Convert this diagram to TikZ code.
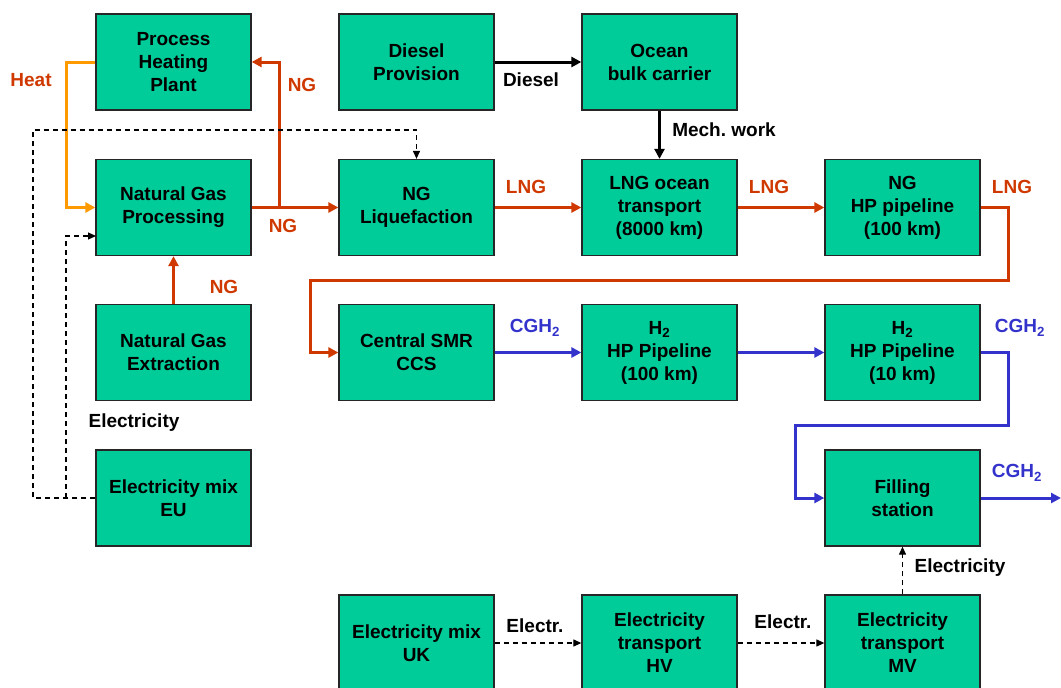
\documentclass[tikz,border=0pt]{standalone}
\usepackage{fontspec}
\setmainfont{Liberation Sans}
\usepackage{xcolor}
\usepackage{tikz}
\usetikzlibrary{arrows.meta}

\definecolor{boxgreen}{RGB}{0,204,153}
\definecolor{ngred}{RGB}{207,57,0}
\definecolor{heatorange}{RGB}{255,153,0}
\definecolor{hblue}{RGB}{51,51,204}

\begin{document}
\begin{tikzpicture}[x=1pt, y=-1pt,
    box/.style={rectangle, draw=black!85, line width=1.3pt, fill=boxgreen, minimum width=155pt, minimum height=96pt, align=center, inner sep=0pt, font=\bfseries\fontsize{19}{23}\selectfont},
    lbl/.style={font=\bfseries\fontsize{19}{23}\selectfont, inner sep=0pt},
    ngline/.style={draw=ngred, line width=3pt, -{Triangle[length=10pt,width=10pt]}},
    heatline/.style={draw=heatorange, line width=3pt, -{Triangle[length=10pt,width=10pt]}},
    hline/.style={draw=hblue, line width=3pt, -{Triangle[length=10pt,width=10pt]}},
    fuelline/.style={draw=black, line width=3pt, -{Triangle[length=10pt,width=10pt]}},
    eline/.style={draw=black, line width=1.2pt, dash pattern=on 5pt off 4pt, -{Triangle[length=8pt,width=7pt]}}]
            \useasboundingbox (0,0) rectangle (1061,688);
            % boxes
            \node (php) at (173.5, 62) [box] {Process\\Heating\\Plant};
            \node (dsl) at (416.5, 62) [box] {Diesel\\Provision};
            \node (obc) at (659.5, 62) [box] {Ocean\\bulk carrier};
            \node (ngp) at (173.5, 207.5) [box] {Natural Gas\\Processing};
            \node (liq) at (416.5, 207.5) [box] {NG\\Liquefaction};
            \node (lngt) at (659.5, 207.5) [box] {LNG ocean\\transport\\(8000 km)};
            \node (ngpl) at (902.5, 207.5) [box] {NG\\HP pipeline\\(100 km)};
            \node (nge) at (173.5, 352.5) [box] {Natural Gas\\Extraction};
            \node (smr) at (416.5, 352.5) [box] {Central SMR\\CCS};
            \node (hpa) at (659.5, 352.5) [box] {H\textsubscript{2}\\HP Pipeline\\(100 km)};
            \node (hpb) at (902.5, 352.5) [box] {H\textsubscript{2}\\HP Pipeline\\(10 km)};
            \node (eu) at (173.5, 498) [box] {Electricity mix\\EU};
            \node (fill) at (902.5, 498) [box] {Filling\\station};
            \node (uk) at (416.5, 643) [box] {Electricity mix\\UK};
            \node (hv) at (659.5, 643) [box] {Electricity\\transport\\HV};
            \node (mv) at (902.5, 643) [box] {Electricity\\transport\\MV};
            % free ends and bends
            \coordinate (ngsplit) at (279, 207.5);
            \coordinate (elecin) at (96, 236);
            \coordinate (elecjoin) at (66, 498);
            \coordinate (out) at (1061, 498);
            % natural gas and heat
            \draw [heatline] (php.west) -- (66, 62) |- (ngp.west);
            \draw [ngline] (nge.north) -- (ngp.south);
            \draw [ngline] (ngp.east) -- (liq.west);
            \draw [ngline] (ngsplit) -- (279, 62) -- (php.east);
            \draw [ngline] (liq.east) -- (lngt.west);
            \draw [ngline] (lngt.east) -- (ngpl.west);
            \draw [ngline] (ngpl.east) -- (1008, 207.5) -- (1008, 280) -- (310, 280) |- (smr.west);
            % diesel
            \draw [fuelline] (dsl.east) -- (obc.west);
            \draw [fuelline] (obc.south) -- (lngt.north);
            % hydrogen
            \draw [hline] (smr.east) -- (hpa.west);
            \draw [hline] (hpa.east) -- (hpb.west);
            \draw [hline] (hpb.east) -- (1008, 352.5) -- (1008, 425) -- (795, 425) |- (fill.west);
            \draw [hline] (fill.east) -- (out);
            % electricity
            \draw [eline] (eu.west) -- (33, 498) -- (33, 130) -| (liq.north);
            \draw [eline] (elecjoin) -- (66, 236) -- (elecin);
            \draw [eline] (uk.east) -- (hv.west);
            \draw [eline] (hv.east) -- (mv.west);
            \draw [eline] (mv.north) -- (fill.south);
            % labels
            \node (l1) at (31, 80) [lbl, text=ngred] {Heat};
            \node (l2) at (302, 85) [lbl, text=ngred] {NG};
            \node (l3) at (283, 226) [lbl, text=ngred] {NG};
            \node (l4) at (224, 287) [lbl, text=ngred] {NG};
            \node (l5) at (526, 187) [lbl, text=ngred] {LNG};
            \node (l6) at (769, 187) [lbl, text=ngred] {LNG};
            \node (l7) at (1012, 187) [lbl, text=ngred] {LNG};
            \node (l8) at (531, 80) [lbl] {Diesel};
            \node (l9) at (724, 130) [lbl] {Mech.\ work};
            \node (l10) at (535, 328) [lbl, text=hblue] {CGH\textsubscript{2}};
            \node (l11) at (1020, 328) [lbl, text=hblue] {CGH\textsubscript{2}};
            \node (l12) at (1017, 473) [lbl, text=hblue] {CGH\textsubscript{2}};
            \node (l13) at (134, 423) [lbl] {Electricity};
            \node (l14) at (960, 568) [lbl] {Electricity};
            \node (l15) at (535, 626) [lbl] {Electr.};
            \node (l16) at (783, 622) [lbl] {Electr.};
        \end{tikzpicture}
\end{document}
